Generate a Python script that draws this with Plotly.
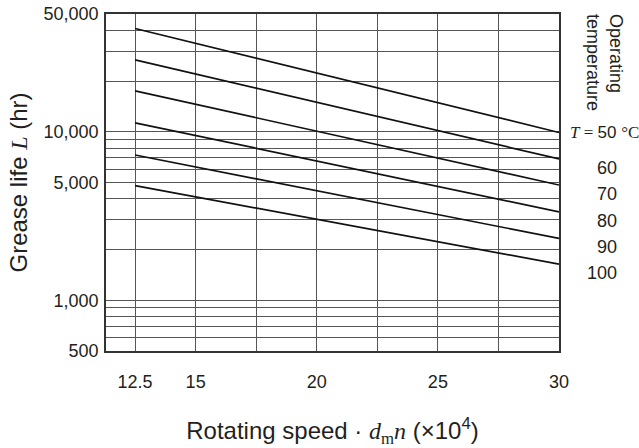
import math
import plotly.graph_objects as go

# ---- data ----
speed = [12.5, 30]
temps = ["50", "60", "70", "80", "90", "100"]
life_50 = [41000, 9900]
life_60 = [26700, 6900]
life_70 = [17500, 4830]
life_80 = [11300, 3350]
life_90 = [7280, 2330]
life_100 = [4790, 1640]
series = [life_50, life_60, life_70, life_80, life_90, life_100]

x_ticks = [12.5, 15, 17.5, 20, 22.5, 25, 27.5, 30]
x_labels = ["12.5", "15", "", "20", "", "25", "", "30"]
y_ticks = [500, 600, 700, 800, 900, 1000, 2000, 3000, 4000, 5000, 6000,
           7000, 8000, 9000, 10000, 20000, 30000, 40000, 50000]
y_labels = ["500", "", "", "", "", "1,000", "", "", "", "5,000", "", "", "",
            "", "10,000", "", "", "", "50,000"]

TXT = "#231f20"
SANS = "Liberation Sans, Arial, sans-serif"
SERIF = "Liberation Serif, Times New Roman, serif"

fig = go.Figure()
for t, vals in zip(temps, series):
    fig.add_trace(go.Scatter(x=speed, y=vals, mode="lines",
                             line=dict(color="#111111", width=1.7),
                             name=t, showlegend=False, hoverinfo="skip"))

# right-side temperature labels, placed near the line ends
for i, (t, vals) in enumerate(zip(temps, series)):
    ylog = math.log10(vals[-1])
    if i == 0:
        txt = (f"<span style='font-family:{SERIF}'><i>T</i></span>"
               f"<span style='font-family:{SERIF}'> = </span>50 "
               f"<span style='font-family:{SERIF}'>°C</span>")
        fig.add_annotation(x=1.0, y=ylog, xref="paper", yref="y",
                           showarrow=False, text=txt,
                           xanchor="left", xshift=9, yshift=0,
                           font=dict(family=SANS, size=17, color=TXT))
    else:
        fig.add_annotation(x=1.0, y=ylog, xref="paper", yref="y",
                           showarrow=False, text=t,
                           xanchor="right", xshift=60, yshift=-9,
                           font=dict(family=SANS, size=18, color=TXT))

fig.add_annotation(x=1.0, y=1.0, xref="paper", yref="paper",
                   xanchor="left", yanchor="top", xshift=22, yshift=2,
                   showarrow=False, textangle=90, align="left",
                   text="Operating<br>temperature",
                   font=dict(family=SANS, size=18, color=TXT))

fig.update_layout(
    width=639, height=448,
    margin=dict(l=106, r=80, t=14, b=97),
    paper_bgcolor="white", plot_bgcolor="white",
    font=dict(family=SANS, size=18, color=TXT),
    xaxis=dict(
        range=[11.3, 30], tickvals=x_ticks, ticktext=x_labels,
        showgrid=True, gridcolor="#555555", gridwidth=1,
        showline=True, linecolor="#333333", linewidth=1.6, mirror=True,
        ticks="", ticklabelstandoff=14, zeroline=False, automargin=False,
        tickfont=dict(size=18, color=TXT),
        title=dict(text="Rotating speed · <span style='font-family:Liberation Serif'><i>d</i><sub>m</sub><i>n</i></span> (×10<sup>4</sup>)",
                   standoff=31, font=dict(size=24, color=TXT)),
    ),
    yaxis=dict(
        type="log", range=[2.69897, 4.69897],
        tickvals=y_ticks, ticktext=y_labels,
        showgrid=True, gridcolor="#555555", gridwidth=1,
        showline=True, linecolor="#333333", linewidth=1.6, mirror=True,
        ticks="", ticklabelstandoff=2, zeroline=False, automargin=False,
        tickfont=dict(size=18, color=TXT),
        title=dict(text="Grease life <span style='font-family:Liberation Serif'><i>L</i></span> (hr)",
                   standoff=9, font=dict(size=24, color=TXT)),
    ),
)

fig.write_html("out.html", config={"displayModeBar": False},
               post_script="document.body.style.margin='0px';")
